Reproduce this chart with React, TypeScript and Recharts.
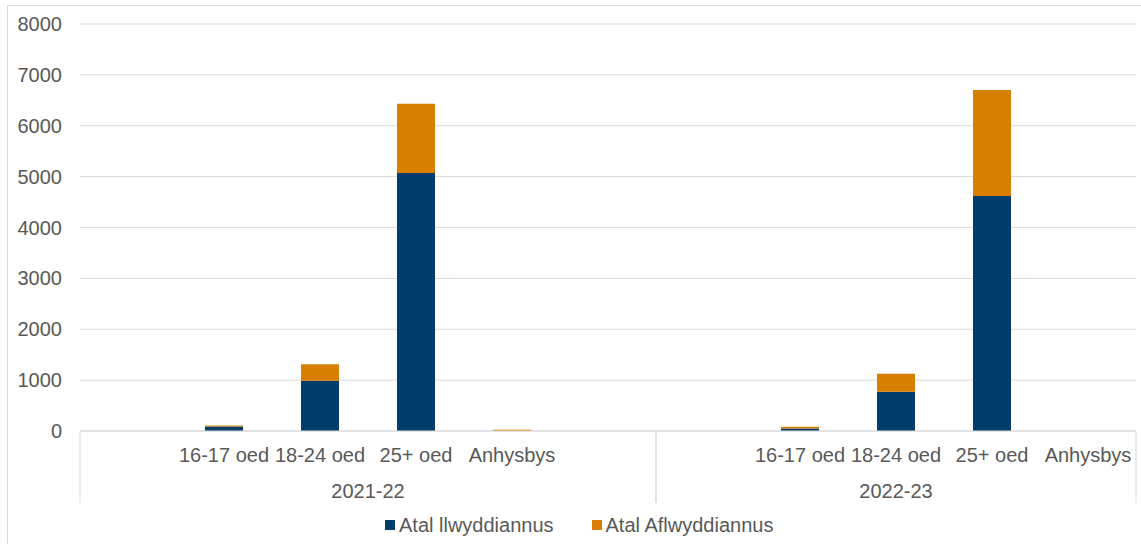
import { BarChart, Bar, XAxis, YAxis, CartesianGrid, Legend } from 'recharts';

// values
const years = ['2021-22', '2022-23'];
const ageGroups = ['16-17 oed', '18-24 oed', '25+ oed', 'Anhysbys'];
const llwyddiannus2122 = [90, 990, 5070, 0];
const aflwyddiannus2122 = [20, 320, 1360, 25];
const llwyddiannus2223 = [50, 770, 4620, 0];
const aflwyddiannus2223 = [35, 355, 2085, 0];
// empty slots the original chart keeps around each year
const blanksBefore = [1, 1];
const blanksAfter = [1, 0];
const yTicks = [0, 1000, 2000, 3000, 4000, 5000, 6000, 7000, 8000];

const seriesNames = ['Atal llwyddiannus', 'Atal Aflwyddiannus'];
const NAVY = '#003d6b';
const ORANGE = '#d67f00';
const TEXT = '#595959';
const GRID = '#d9d9d9';
const FONT = '"Liberation Sans", Arial, sans-serif';

type Row = {
  age: string;
  year: string;
  first: boolean;
  last: boolean;
  count: number;
  ok?: number;
  fail?: number;
};

const buildRows = (): Row[] => {
  const ok = [llwyddiannus2122, llwyddiannus2223];
  const fail = [aflwyddiannus2122, aflwyddiannus2223];
  const rows: Row[] = [];
  years.forEach((year, g) => {
    const count = blanksBefore[g] + ageGroups.length + blanksAfter[g];
    const groupRows: Row[] = [];
    for (let i = 0; i < blanksBefore[g]; i++) groupRows.push({ age: '', year, first: false, last: false, count });
    ageGroups.forEach((age, i) => {
      groupRows.push({ age, year, first: false, last: false, count, ok: ok[g][i], fail: fail[g][i] });
    });
    for (let i = 0; i < blanksAfter[g]; i++) groupRows.push({ age: '', year, first: false, last: false, count });
    groupRows[0].first = true;
    groupRows[groupRows.length - 1].last = true;
    rows.push(...groupRows);
  });
  return rows;
};

const data = buildRows();

const CategoryTick = (props: any) => {
  const { x, y, payload, index } = props;
  const row = data[index];
  const half = payload?.offset || 48;
  return (
    <g>
      <text x={x} y={y + 31} textAnchor="middle" fill={TEXT} fontSize={20} fontFamily={FONT}>
        {row.age}
      </text>
      {row.first && (
        <>
          <line x1={x - half} x2={x - half} y1={y} y2={y + 72} stroke={GRID} strokeWidth={1} />
          <text x={x + (row.count - 1) * half} y={y + 67} textAnchor="middle" fill={TEXT} fontSize={20} fontFamily={FONT}>
            {row.year}
          </text>
        </>
      )}
      {row.last && <line x1={x + half} x2={x + half} y1={y} y2={y + 72} stroke={GRID} strokeWidth={1} />}
    </g>
  );
};

const LegendContent = () => (
  <div style={{ display: 'flex', alignItems: 'center', height: 26, paddingLeft: 377, fontFamily: FONT, fontSize: 20, color: TEXT }}>
    <span style={{ width: 10, height: 10, background: NAVY, marginRight: 4 }} />
    <span>{seriesNames[0]}</span>
    <span style={{ width: 10, height: 10, background: ORANGE, marginLeft: 38, marginRight: 4 }} />
    <span>{seriesNames[1]}</span>
  </div>
);

export default function App() {
  return (
    <div style={{ position: 'absolute', left: 7, top: 5, borderLeft: `1px solid ${GRID}`, borderTop: `1px solid ${GRID}`, background: '#fff' }}>
      <BarChart width={1133} height={538} data={data} margin={{ top: 18, right: 5, bottom: 6, left: 0 }}>
        <CartesianGrid vertical={false} stroke={GRID} />
        <XAxis
          dataKey="age"
          interval={0}
          tickLine={false}
          tickSize={0}
          tickMargin={0}
          height={81}
          axisLine={{ stroke: GRID }}
          tick={<CategoryTick />}
        />
        <YAxis
          width={72}
          domain={[0, 8000]}
          ticks={yTicks}
          axisLine={false}
          tickLine={false}
          tickSize={0}
          tickMargin={18}
          tick={{ fill: TEXT, fontSize: 20, fontFamily: FONT }}
        />
        <Legend verticalAlign="bottom" height={26} wrapperStyle={{ left: 0, width: 1133 }} content={<LegendContent />} />
        <Bar dataKey="ok" name={seriesNames[0]} stackId="a" fill={NAVY} barSize={38} isAnimationActive={false} />
        <Bar dataKey="fail" name={seriesNames[1]} stackId="a" fill={ORANGE} barSize={38} isAnimationActive={false} />
      </BarChart>
    </div>
  );
}
